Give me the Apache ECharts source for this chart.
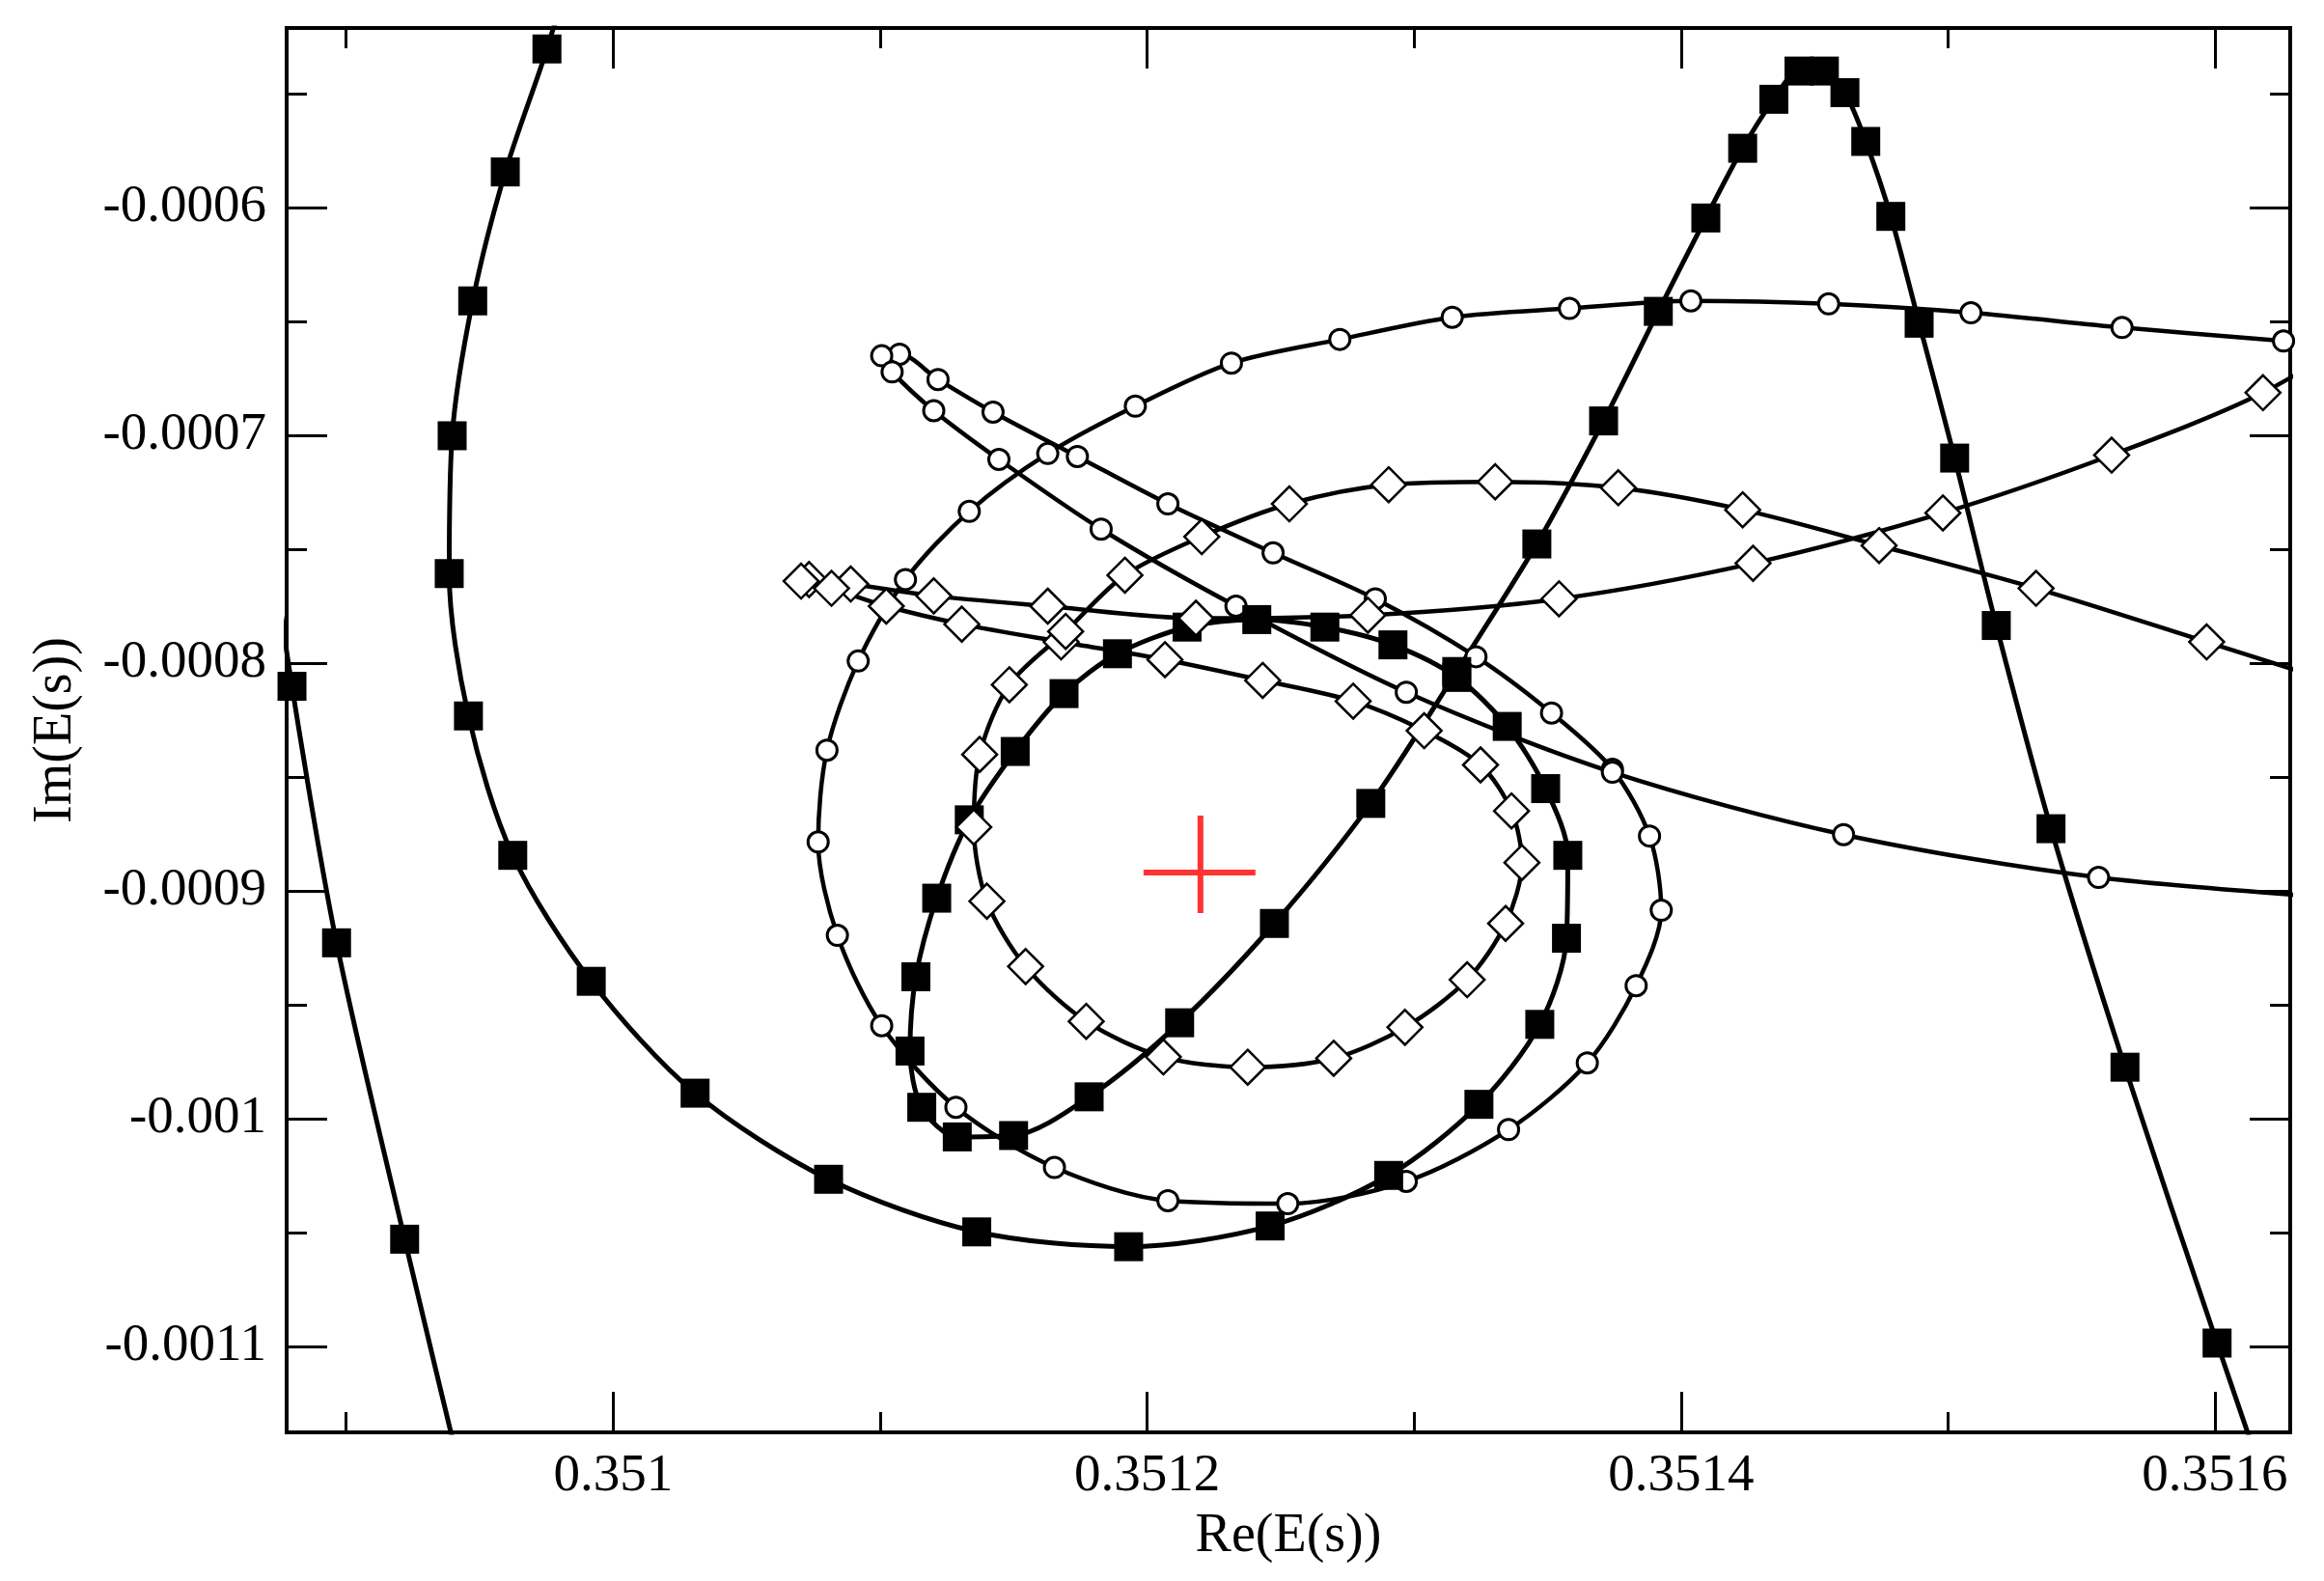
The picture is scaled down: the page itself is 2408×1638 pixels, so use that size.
<!DOCTYPE html>
<html>
<head>
<meta charset="utf-8">
<title>Re(E(s)) / Im(E(s))</title>
<script src="https://cdn.jsdelivr.net/npm/echarts@6/dist/echarts.min.js"></script>
<style>
  html, body { margin: 0; padding: 0; background: #fff; }
  #chart { width: 2408px; height: 1638px; }
</style>
</head>
<body>
<div id="chart"></div>
<script>
// visible window of the plot
const X_MIN = 0.3508777, X_MAX = 0.3516282;
const Y_MIN = -0.0011377, Y_MAX = -0.0005212;

const xTickValues = [0.351, 0.3512, 0.3514, 0.3516];
const xTickLabels = ['0.351', '0.3512', '0.3514', '0.3516'];
const yTickValues = [-0.0006, -0.0007, -0.0008, -0.0009, -0.001, -0.0011];
const yTickLabels = ['-0.0006', '-0.0007', '-0.0008', '-0.0009', '-0.001', '-0.0011'];

// open circles [Re, Im]
const circleCurve = [
  [0.3516257, -0.0006586], [0.3515652, -0.0006527], [0.3515086, -0.0006462], [0.3514553, -0.0006423],
  [0.3514037, -0.0006410], [0.3513582, -0.0006443], [0.3513143, -0.0006482], [0.3512722, -0.0006579],
  [0.3512316, -0.0006683], [0.3511956, -0.0006872], [0.3511628, -0.0007080], [0.3511334, -0.0007334],
  [0.3511095, -0.0007633], [0.3510918, -0.0007991], [0.3510801, -0.0008382], [0.3510768, -0.0008785],
  [0.3510840, -0.0009195], [0.3511006, -0.0009592], [0.3511284, -0.0009950], [0.3511653, -0.0010214],
  [0.3512078, -0.0010360], [0.3512527, -0.0010373], [0.3512971, -0.0010275], [0.3513354, -0.0010048],
  [0.3513649, -0.0009755], [0.3513832, -0.0009416], [0.3513926, -0.0009085], [0.3513882, -0.0008759],
  [0.3513743, -0.0008466], [0.3513515, -0.0008219], [0.3513232, -0.0007972], [0.3512855, -0.0007718],
  [0.3512472, -0.0007516], [0.3512078, -0.0007301], [0.3511739, -0.0007093], [0.3511423, -0.0006898],
  [0.3511217, -0.0006755], [0.3511073, -0.0006644], [0.3511006, -0.0006651], [0.3511045, -0.0006722],
  [0.3511201, -0.0006892], [0.3511445, -0.0007106], [0.3511828, -0.0007412], [0.3512333, -0.0007750],
  [0.3512971, -0.0008128], [0.3513743, -0.0008479], [0.3514609, -0.0008753], [0.3515564, -0.0008941],
  [0.3516563, -0.0009039]
];

// filled squares, branch entering from the left edge
const squareLeft = [
  [0.3508692, -0.0007236], [0.3508797, -0.0008102], [0.3508964, -0.0009228],
  [0.3509219, -0.0010529], [0.3509491, -0.0011857]
];

// filled squares, main spiral
const squareSpiral = [
  [0.3509880, -0.0004796], [0.3509752, -0.0005304], [0.3509596, -0.0005844], [0.3509474, -0.0006410],
  [0.3509397, -0.0007002], [0.3509386, -0.0007607], [0.3509458, -0.0008232], [0.3509624, -0.0008844],
  [0.3509918, -0.0009397], [0.3510307, -0.0009888], [0.3510807, -0.0010266], [0.3511362, -0.0010497],
  [0.3511931, -0.0010562], [0.3512461, -0.0010471], [0.3512905, -0.0010249], [0.3513243, -0.0009937],
  [0.3513471, -0.0009586], [0.3513571, -0.0009208], [0.3513576, -0.0008844], [0.3513493, -0.0008551],
  [0.3513349, -0.0008278], [0.3513160, -0.0008063], [0.3512921, -0.0007920], [0.3512666, -0.0007842],
  [0.3512411, -0.0007809], [0.3512150, -0.0007842], [0.3511889, -0.0007959], [0.3511689, -0.0008134],
  [0.3511506, -0.0008388], [0.3511334, -0.0008688], [0.3511212, -0.0009032], [0.3511134, -0.0009377],
  [0.3511112, -0.0009703], [0.3511156, -0.0009950], [0.3511289, -0.0010080], [0.3511500, -0.0010074],
  [0.3511783, -0.0009904], [0.3512122, -0.0009579], [0.3512477, -0.0009143], [0.3512838, -0.0008616],
  [0.3513160, -0.0008037], [0.3513460, -0.0007477], [0.3513710, -0.0006937], [0.3513915, -0.0006456],
  [0.3514093, -0.0006046], [0.3514231, -0.0005740], [0.3514348, -0.0005525], [0.3514442, -0.0005401],
  [0.3514537, -0.0005401], [0.3514614, -0.0005496], [0.3514692, -0.0005710], [0.3514786, -0.0006039],
  [0.3514892, -0.0006508], [0.3515025, -0.0007100], [0.3515181, -0.0007835], [0.3515386, -0.0008727],
  [0.3515663, -0.0009774], [0.3516008, -0.0010985], [0.3516396, -0.0012312]
];

// open diamonds
const diamondCurve = [
  [0.3516696, -0.0006449], [0.3516180, -0.0006813], [0.3515613, -0.0007087], [0.3514981, -0.0007341],
  [0.3514270, -0.0007562], [0.3513543, -0.0007718], [0.3512827, -0.0007790], [0.3512183, -0.0007803],
  [0.3511628, -0.0007750], [0.3511201, -0.0007705], [0.3510890, -0.0007653], [0.3510734, -0.0007633],
  [0.3510704, -0.0007640], [0.3510818, -0.0007672], [0.3511023, -0.0007750], [0.3511306, -0.0007829],
  [0.3511678, -0.0007907], [0.3512067, -0.0007985], [0.3512433, -0.0008076], [0.3512772, -0.0008167],
  [0.3513038, -0.0008297], [0.3513249, -0.0008447], [0.3513365, -0.0008649], [0.3513404, -0.0008876],
  [0.3513343, -0.0009143], [0.3513199, -0.0009390], [0.3512966, -0.0009599], [0.3512699, -0.0009735],
  [0.3512377, -0.0009774], [0.3512061, -0.0009729], [0.3511772, -0.0009573], [0.3511545, -0.0009332],
  [0.3511400, -0.0009045], [0.3511351, -0.0008720], [0.3511373, -0.0008401], [0.3511484, -0.0008095],
  [0.3511695, -0.0007861], [0.3511917, -0.0007614], [0.3512205, -0.0007445], [0.3512533, -0.0007301],
  [0.3512905, -0.0007217], [0.3513304, -0.0007204], [0.3513765, -0.0007230], [0.3514231, -0.0007327],
  [0.3514742, -0.0007484], [0.3515330, -0.0007672], [0.3515969, -0.0007907], [0.3516668, -0.0008167]
];

// red cross
const crossPoint = [[0.35122, -0.000892]];

const FONT = "'Liberation Serif', 'Times New Roman', serif";

function pickLabel(values, labels) {
  return function (v) {
    const i = values.findIndex(t => Math.abs(t - v) < 1e-10);
    return i < 0 ? '' : labels[i];
  };
}

// one axis per tick row (major / minor, both sides)
function tickAxis(dim, position, step, len, extra) {
  const isX = dim === 'x';
  const min = isX ? X_MIN : Y_MIN;
  const max = isX ? X_MAX : Y_MAX;
  return Object.assign({
    type: 'value',
    position: position,
    min: min,
    max: max,
    minInterval: step,
    maxInterval: step,
    splitNumber: Math.round((max - min) / step),
    scale: true,
    axisLine: { show: false },
    axisTick: { show: true, inside: true, length: len, lineStyle: { color: '#000', width: 3 } },
    axisLabel: { show: false },
    splitLine: { show: false },
    minorTick: { show: false }
  }, extra || {});
}

const labelStyle = { fontFamily: FONT, fontSize: 55, color: '#000' };

const xAxes = [
  tickAxis('x', 'bottom', 0.0002, 42, {
    name: 'Re(E(s))',
    nameLocation: 'middle',
    nameGap: 80,
    nameTextStyle: { fontFamily: FONT, fontSize: 56, color: '#000' },
    axisLabel: Object.assign({
      show: true, margin: 18, showMinLabel: false, showMaxLabel: false,
      formatter: pickLabel(xTickValues, xTickLabels)
    }, labelStyle)
  }),
  tickAxis('x', 'bottom', 0.0001, 21),
  tickAxis('x', 'top', 0.0002, 42),
  tickAxis('x', 'top', 0.0001, 21)
];

const yAxes = [
  tickAxis('y', 'left', 0.0001, 42, {
    name: 'Im(E(s))',
    nameLocation: 'middle',
    nameGap: 211,
    nameRotate: 90,
    nameTextStyle: { fontFamily: FONT, fontSize: 56, color: '#000' },
    axisLabel: Object.assign({
      show: true, margin: 21, showMinLabel: false, showMaxLabel: false,
      formatter: pickLabel(yTickValues, yTickLabels)
    }, labelStyle)
  }),
  tickAxis('y', 'left', 0.00005, 21),
  tickAxis('y', 'right', 0.0001, 42),
  tickAxis('y', 'right', 0.00005, 21)
];

function curve(data, symbol, size, itemStyle, width) {
  return {
    type: 'line',
    data: data,
    xAxisIndex: 0,
    yAxisIndex: 0,
    clip: true,
    smooth: 0.3,
    symbol: symbol,
    symbolSize: size,
    showSymbol: true,
    lineStyle: { color: '#000', width: width },
    itemStyle: itemStyle,
    emphasis: { disabled: true },
    silent: true
  };
}

const chart = echarts.init(document.getElementById('chart'), null, { renderer: 'canvas' });

chart.setOption({
  backgroundColor: '#fff',
  animation: false,
  grid: {
    left: 297, right: 35, top: 29, bottom: 154,
    show: true, borderColor: '#000', borderWidth: 4, backgroundColor: 'transparent',
    containLabel: false,
    outerBoundsMode: 'none'
  },
  xAxis: xAxes,
  yAxis: yAxes,
  series: [
    curve(circleCurve, 'circle', 21, { color: '#fff', borderColor: '#000', borderWidth: 3 }, 4.5),
    curve(squareLeft, 'rect', 30, { color: '#000', borderWidth: 0 }, 5),
    curve(squareSpiral, 'rect', 30, { color: '#000', borderWidth: 0 }, 5),
    curve(diamondCurve, 'diamond', 36, { color: '#fff', borderColor: '#000', borderWidth: 2.5 }, 4.5),
    {
      type: 'scatter',
      data: crossPoint,
      symbol: 'path://M0,56 L116,56 L116,62 L0,62 Z M56,0 L62,0 L62,101 L56,101 Z',
      symbolSize: [116, 101],
      symbolOffset: [-1, -8.5],
      itemStyle: { color: '#ff0000' },
      emphasis: { disabled: true },
      silent: true,
      z: 10
    }
  ]
});

window.addEventListener('resize', () => chart.resize());
</script>
</body>
</html>
